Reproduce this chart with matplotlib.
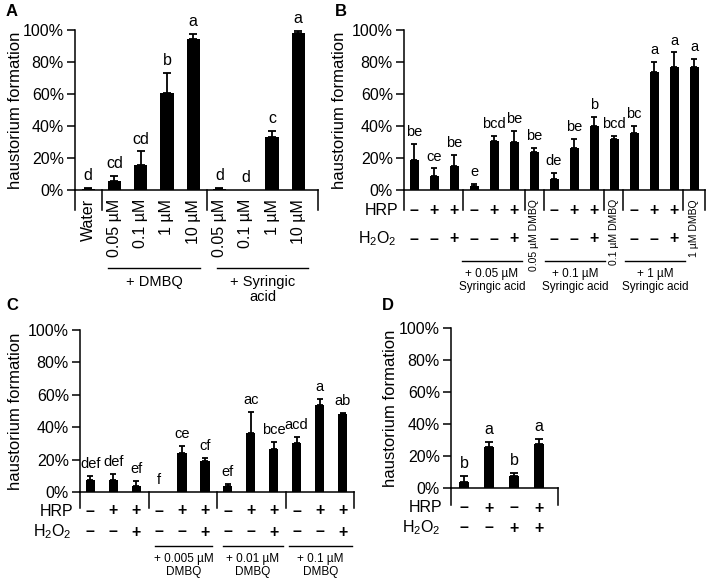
import matplotlib.pyplot as plt
from matplotlib.transforms import blended_transform_factory

plt.rcParams['font.family'] = ['Liberation Sans', 'DejaVu Sans']
plt.rcParams['mathtext.fontset'] = 'custom'
plt.rcParams['mathtext.rm'] = 'Liberation Sans'
plt.rcParams['mathtext.default'] = 'regular'

# ---- dados ----
yticks = [0, 20, 40, 60, 80, 100]
ytick_labels = ['0%', '20%', '40%', '60%', '80%', '100%']

# painel A
A_labels = ['Water', '0.05 µM', '0.1 µM', '1 µM', '10 µM',
            '0.05 µM', '0.1 µM', '1 µM', '10 µM']
A_mean = [0.5, 5.8, 15.6, 60.5, 94.5, 0.8, 0, 33.3, 98.3]
A_err = [1.0, 3.0, 8.5, 12.9, 3.2, 0.7, 0, 3.6, 1.2]
A_sig = ['d', 'cd', 'cd', 'b', 'a', 'd', 'd', 'c', 'a']
A_groups = ['+ DMBQ', '+ Syringic\nacid']

# painel B
B_mean = [18.5, 8.7, 15, 2.7, 30.8, 30, 24, 7, 26, 40, 31.7, 35.4, 74, 77, 77]
B_err = [10.5, 4.8, 6.7, 1.0, 3.2, 6.7, 2.5, 3.8, 5.7, 5.6, 2.0, 4.6, 5.8, 9.0, 5.0]
B_sig = ['be', 'ce', 'be', 'e', 'bcd', 'be', 'be', 'de', 'be', 'b',
         'bcd', 'bc', 'a', 'a', 'a']
B_hrp = ['–', '+', '+', '–', '+', '+', '', '–', '+', '+', '', '–', '+', '+', '']
B_h2o2 = ['–', '–', '+', '–', '–', '+', '', '–', '–', '+', '', '–', '–', '+', '']
B_dmbq = ['0.05 µM DMBQ', '0.1 µM DMBQ', '1 µM DMBQ']
B_groups = ['+ 0.05 µM\nSyringic acid', '+ 0.1 µM\nSyringic acid',
            '+ 1 µM\nSyringic acid']

# painel C
C_mean = [7.6, 7.6, 3.9, 0, 24, 19, 3.5, 36.5, 26.4, 30, 53.6, 48.2]
C_err = [2.4, 3.4, 2.7, 0, 4.7, 2.2, 1.5, 13, 4.6, 3.8, 3.7, 0.5]
C_sig = ['def', 'def', 'ef', 'f', 'ce', 'cf', 'ef', 'ac', 'bce', 'acd', 'a', 'ab']
C_hrp = ['–', '+', '+'] * 4
C_h2o2 = ['–', '–', '+'] * 4
C_groups = ['+ 0.005 µM\nDMBQ', '+ 0.01 µM\nDMBQ', '+ 0.1 µM\nDMBQ']

# painel D
D_mean = [3.8, 25.7, 7.3, 27.4]
D_err = [3.5, 3.2, 2.1, 3.1]
D_sig = ['b', 'a', 'b', 'a']
D_hrp = ['–', '+', '–', '+']
D_h2o2 = ['–', '–', '+', '+']

W, H = 710, 582
fig = plt.figure(figsize=(W / 100, H / 100), dpi=100)


def fx(p):
    return p / W


def fy(p):
    return 1 - p / H


def make_axes(l, t, r, b, xlim):
    ax = fig.add_axes([l / W, 1 - b / H, (r - l) / W, (b - t) / H])
    ax.set_xlim(*xlim)
    ax.set_ylim(0, 100)
    for s in ['top', 'right']:
        ax.spines[s].set_visible(False)
    for s in ['left', 'bottom']:
        ax.spines[s].set_linewidth(1.1)
    ax.set_xticks([])
    ax.set_yticks(yticks)
    ax.set_yticklabels(ytick_labels, fontsize=11.5)
    ax.tick_params(axis='y', length=6, width=1.1, pad=2)
    ax.patch.set_visible(False)
    ax.tr = blended_transform_factory(ax.transData, fig.transFigure)
    ax.bottom_px = b
    return ax


def draw_bars(ax, mean, err, sig, width, cap, sig_size):
    x = list(range(len(mean)))
    ax.bar(x, mean, width=width, color='black', zorder=2)
    # so desenha barra de erro onde ha erro
    xe = [i for i in x if err[i] > 0]
    ax.errorbar(xe, [mean[i] for i in xe], yerr=[[0] * len(xe), [err[i] for i in xe]],
                fmt='none', ecolor='black', elinewidth=1.3, capsize=cap,
                capthick=1.3, zorder=3)
    for i in x:
        ax.annotate(sig[i], (i, mean[i] + err[i]), xytext=(0, 3.5),
                    textcoords='offset points', ha='center', va='bottom',
                    fontsize=sig_size)


def separators(ax, xs, bottom):
    for x in xs:
        ax.plot([x, x], [fy(ax.bottom_px), fy(bottom)], transform=ax.tr,
                color='black', lw=1.1, clip_on=False)


def sign_row(ax, signs, ypix, label, label_right):
    for i, s in enumerate(signs):
        if s:
            ax.text(i, fy(ypix), s, transform=ax.tr, ha='center', va='center',
                    fontsize=11.5, fontweight='bold')
    fig.text(fx(label_right), fy(ypix), label, ha='right', va='center', fontsize=11.5)


def group(ax, x0, x1, yline, text, ytext, size):
    ax.plot([x0, x1], [fy(yline), fy(yline)], transform=ax.tr, color='black',
            lw=1.0, clip_on=False)
    ax.text((x0 + x1) / 2, fy(ytext), text, transform=ax.tr, ha='center',
            va='top', fontsize=size, linespacing=1.1)


def ylabel(xp, yp):
    fig.text(fx(xp), fy(yp), 'haustorium formation', rotation=90,
             ha='center', va='center', fontsize=12)


# ---------- A ----------
axA = make_axes(75, 30, 318, 190, (-0.5, 8.75))
draw_bars(axA, A_mean, A_err, A_sig, 0.5, 3, 11.5)
separators(axA, [-0.5, 0.53, 4.53, 8.75], 210)
for i, lab in enumerate(A_labels):
    axA.text(i, fy(199), lab, transform=axA.tr, rotation=90, ha='center',
             va='top', fontsize=11.5)
group(axA, 0.76, 4.27, 268, A_groups[0], 275, 10.5)
group(axA, 4.91, 8.38, 268, A_groups[1], 275, 10.5)
ylabel(16, 110)

# ---------- B ----------
axB = make_axes(404, 30, 705, 190, (-0.5, 14.55))
draw_bars(axB, B_mean, B_err, B_sig, 0.45, 2.4, 10.5)
separators(axB, [-0.5, 2.45, 5.55, 6.5, 9.5, 10.45, 13.45, 14.55], 210)
sign_row(axB, B_hrp, 210, 'HRP', 398)
sign_row(axB, B_h2o2, 239, r'H$_2$O$_2$', 397)
for pos, lab in zip([6, 10, 14], B_dmbq):
    axB.text(pos, fy(199), lab, transform=axB.tr, rotation=90, ha='center',
             va='top', fontsize=7.5)
for (x0, x1), lab in zip([(2.4, 5.4), (6.55, 9.55), (10.55, 13.55)], B_groups):
    group(axB, x0, x1, 261, lab, 268, 8.5)
ylabel(340, 110)

# ---------- C ----------
axC = make_axes(80, 330, 354, 492, (-0.45, 11.5))
draw_bars(axC, C_mean, C_err, C_sig, 0.4, 2.4, 10.5)
separators(axC, [-0.45, 2.55, 5.52, 8.52, 11.5], 508)
sign_row(axC, C_hrp, 511, 'HRP', 73)
sign_row(axC, C_h2o2, 532, r'H$_2$O$_2$', 72)
for (x0, x1), lab in zip([(2.83, 5.3), (5.78, 8.4), (8.65, 11.43)], C_groups):
    group(axC, x0, x1, 546, lab, 553, 8.5)
ylabel(16, 411)

# ---------- D ----------
axD = make_axes(451, 328, 558, 488, (-0.52, 3.76))
draw_bars(axD, D_mean, D_err, D_sig, 0.42, 2.9, 11.5)
separators(axD, [-0.52, 3.76], 505)
sign_row(axD, D_hrp, 508, 'HRP', 442)
sign_row(axD, D_h2o2, 528, r'H$_2$O$_2$', 441)
ylabel(390, 408)

# letras dos paineis
for lab, xp, yp in [('A', 12, 11), ('B', 341, 11), ('C', 12, 306), ('D', 388, 306)]:
    fig.text(fx(xp), fy(yp), lab, ha='center', va='center', fontsize=12,
             fontweight='bold')

fig.savefig('out.png', dpi=100)
